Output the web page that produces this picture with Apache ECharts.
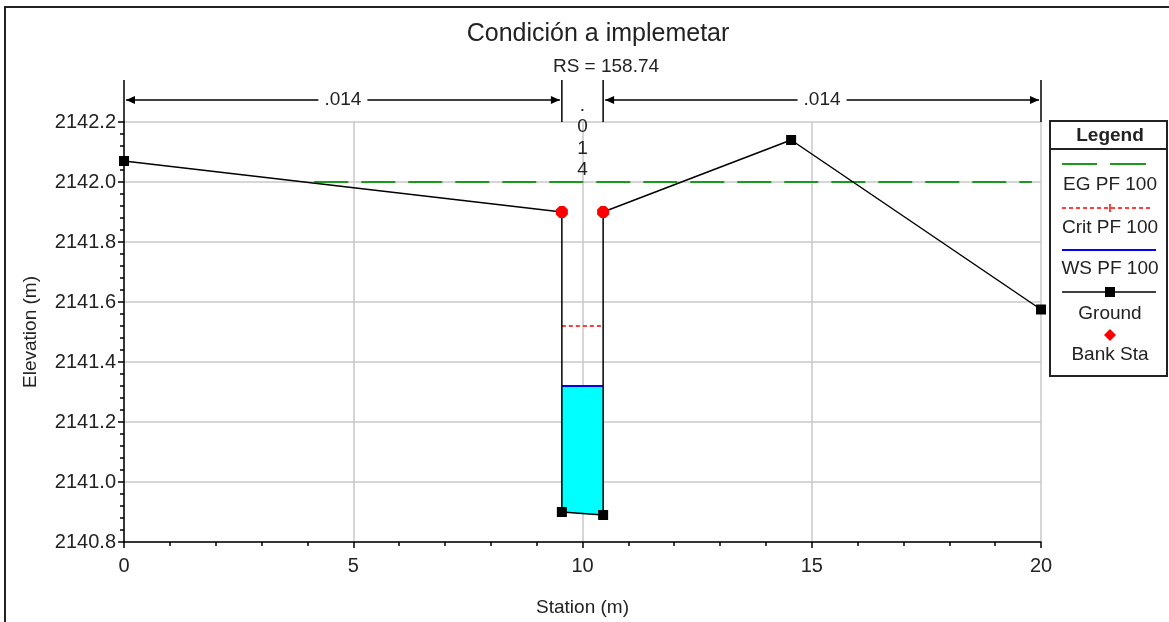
<!DOCTYPE html>
<html><head><meta charset="utf-8">
<script src="https://cdn.jsdelivr.net/npm/echarts@6/dist/echarts.min.js"></script>
<style>html,body{margin:0;padding:0;background:#fff}#c{width:1169px;height:622px}</style>
</head><body><div id="c"></div>
<script>
// ---- data ----
const groundX = [0, 9.55, 9.55, 10.45, 10.45, 14.55, 20];
const groundY = [2142.07, 2141.90, 2140.90, 2140.89, 2141.90, 2142.14, 2141.575];
const bankX = [9.55, 10.45];
const bankY = [2141.90, 2141.90];
const egX = [4.15, 19.8];
const egY = [2142.0, 2142.0];
const critX = [9.55, 10.45];
const critY = [2141.52, 2141.52];
const wsX = [9.55, 10.45];
const wsY = [2141.32, 2141.32];
const nBounds = [0, 9.55, 10.45, 20];
const nValues = ['.014', '.014', '.014'];
const legendNames = ['EG PF 100', 'Crit PF 100', 'WS PF 100', 'Ground', 'Bank Sta'];
const titleText = 'Condición a implemetar';
const subText = 'RS = 158.74';
const xMin = 0, xMax = 20, xStep = 5;
const yMin = 2140.8, yMax = 2142.2, yStep = 0.2;

const FONT = 'Liberation Sans, Arial, sans-serif';
const pairs = (xs, ys) => xs.map((x, i) => [x, ys[i]]);
const fillPoly = [[wsX[0], wsY[0]], [wsX[1], wsY[1]], [groundX[3], groundY[3]], [groundX[2], groundY[2]]];
const isBank = (x, y) => bankX.some((b, i) => b === x && bankY[i] === y);
const octagon = 'path://M3,0 L7,0 L10,3 L10,7 L7,10 L3,10 L0,7 L0,3 Z';

const chart = echarts.init(document.getElementById('c'), null, {renderer: 'canvas'});
const option = {
  backgroundColor: '#fff',
  animation: false,
  grid: {left: 124, right: 128, top: 122, bottom: 79},
  xAxis: {
    type: 'value', min: xMin, max: xMax, interval: xStep,
    name: 'Station (m)', nameLocation: 'middle', nameGap: 56,
    nameTextStyle: {fontFamily: FONT, fontSize: 19, color: '#222'},
    axisLine: {lineStyle: {color: '#000', width: 1.5}},
    axisTick: {show: true, length: 6, inside: false, lineStyle: {color: '#000', width: 1.5}},
    minorTick: {show: true, splitNumber: 5, length: 4, lineStyle: {color: '#000', width: 1.5}},
    axisLabel: {fontFamily: FONT, fontSize: 20, color: '#222', margin: 14},
    splitLine: {show: true, lineStyle: {color: '#c8c8c8', width: 1.5}}
  },
  yAxis: {
    type: 'value', min: yMin, max: yMax, interval: yStep,
    name: 'Elevation (m)', nameLocation: 'middle', nameGap: 84, nameRotate: 90,
    nameTextStyle: {fontFamily: FONT, fontSize: 19, color: '#222'},
    axisLine: {show: true, lineStyle: {color: '#000', width: 1.5}},
    axisTick: {show: true, length: 6, lineStyle: {color: '#000', width: 1.5}},
    minorTick: {show: true, splitNumber: 5, length: 4, lineStyle: {color: '#000', width: 1.5}},
    axisLabel: {fontFamily: FONT, fontSize: 20, color: '#222', margin: 8, formatter: v => v.toFixed(1)},
    splitLine: {show: true, lineStyle: {color: '#c8c8c8', width: 1.5}}
  },
  title: [
    {text: titleText, left: 593, top: 17, textAlign: 'center',
     textStyle: {fontFamily: FONT, fontSize: 25, fontWeight: 'normal', color: '#222'}},
    {text: subText, left: 601, top: 52, textAlign: 'center',
     textStyle: {fontFamily: FONT, fontSize: 19, fontWeight: 'normal', color: '#222'}}
  ],
  series: [
    {type: 'custom', name: 'fill', data: [[wsX[0], wsY[0]]], z: 1,
     renderItem: (params, api) => ({
       type: 'polygon',
       shape: {points: fillPoly.map(p => api.coord(p))},
       style: {fill: '#00ffff'}
     })},
    {type: 'line', name: legendNames[0], data: pairs(egX, egY), symbol: 'none', z: 2,
     lineStyle: {color: '#1a9a1a', width: 2, type: [34, 13]}},
    {type: 'line', name: legendNames[1], data: pairs(critX, critY), symbol: 'none', z: 3,
     lineStyle: {color: '#ff0000', width: 1.5, type: [4, 3]}},
    {type: 'line', name: legendNames[2], data: pairs(wsX, wsY), symbol: 'none', z: 3,
     lineStyle: {color: '#0000ff', width: 2}},
    {type: 'line', name: legendNames[3], z: 4,
     data: pairs(groundX, groundY).map(p => ({value: p, symbol: isBank(p[0], p[1]) ? 'none' : 'rect'})),
     symbol: 'rect', symbolSize: 10, showAllSymbol: true, itemStyle: {color: '#000'},
     lineStyle: {color: '#000', width: 1.5}},
    {type: 'scatter', name: legendNames[4], data: pairs(bankX, bankY), z: 5,
     symbol: octagon, symbolSize: 12, itemStyle: {color: '#ff0000', opacity: 1}}
  ]
};
chart.setOption(option);

// ---- annotations (positions derived from the axes) ----
const toPx = (x, y) => chart.convertToPixel({gridIndex: 0}, [x, y]);
const topY = toPx(0, yMax)[1];
const arrowY = topY - 22;
const g = [];
const bx = nBounds.map(b => toPx(b, yMax)[0]);
bx.forEach(x => g.push({type: 'line', shape: {x1: x, y1: topY - 42, x2: x, y2: topY}, style: {stroke: '#000', lineWidth: 1.5}, z: 10}));
function arrow(x, dir) { // dir -1 points left, +1 points right
  return {type: 'polygon', shape: {points: [[x, arrowY], [x - dir * 9, arrowY - 4], [x - dir * 9, arrowY + 4]]}, style: {fill: '#000'}, z: 10};
}
[[0, 1, 0], [2, 3, 2]].forEach(([a, b, k]) => {
  const x1 = bx[a] + 2, x2 = bx[b] - 2;
  g.push({type: 'line', shape: {x1, y1: arrowY, x2, y2: arrowY}, style: {stroke: '#000', lineWidth: 1.5}, z: 10});
  g.push(arrow(x1, -1), arrow(x2, 1));
  g.push({type: 'text', x: (x1 + x2) / 2, y: arrowY, z: 11,
    style: {text: nValues[k], fontFamily: FONT, fontSize: 19, fill: '#222', align: 'center', verticalAlign: 'middle',
            backgroundColor: '#fff', padding: [0, 6]}});
});
const midX = toPx((nBounds[1] + nBounds[2]) / 2, yMax)[0];
g.push({type: 'text', x: midX, y: topY - 27, z: 11,
  style: {text: nValues[1].split('').join('\n'), fontFamily: FONT, fontSize: 19, lineHeight: 21.5, fill: '#222', align: 'center', verticalAlign: 'top'}});

// outer frame (top + left edges visible)
g.push({type: 'line', shape: {x1: 4, y1: 7, x2: 1169, y2: 7}, style: {stroke: '#222', lineWidth: 2}, z: 20});
g.push({type: 'line', shape: {x1: 5, y1: 7, x2: 5, y2: 622}, style: {stroke: '#222', lineWidth: 2}, z: 20});

// ---- legend box ----
const L = {x: 1050, y: 121, w: 117, h: 255, cx: 1110};
g.push({type: 'rect', shape: {x: L.x, y: L.y, width: L.w, height: L.h}, style: {fill: '#fff', stroke: '#222', lineWidth: 2}, z: 20});
g.push({type: 'line', shape: {x1: L.x, y1: 149, x2: L.x + L.w, y2: 149}, style: {stroke: '#222', lineWidth: 2}, z: 21});
g.push({type: 'text', x: L.cx, y: 136, z: 21, style: {text: 'Legend', fontFamily: FONT, fontSize: 19, fontWeight: 'bold', fill: '#222', align: 'center', verticalAlign: 'middle'}});
const labY = [185, 228, 269, 314, 355];
labY.forEach((y, i) => g.push({type: 'text', x: L.cx, y, z: 21, style: {text: legendNames[i], fontFamily: FONT, fontSize: 19, fill: '#222', align: 'center', verticalAlign: 'middle'}}));
g.push({type: 'line', shape: {x1: 1062, y1: 164, x2: 1097, y2: 164}, style: {stroke: '#1a9a1a', lineWidth: 2}, z: 21});
g.push({type: 'line', shape: {x1: 1110, y1: 164, x2: 1146, y2: 164}, style: {stroke: '#1a9a1a', lineWidth: 2}, z: 21});
g.push({type: 'line', shape: {x1: 1062, y1: 208, x2: 1152, y2: 208}, style: {stroke: '#ff0000', lineWidth: 1.5, lineDash: [4, 3]}, z: 21});
g.push({type: 'line', shape: {x1: 1110, y1: 204, x2: 1110, y2: 212}, style: {stroke: '#ff0000', lineWidth: 1.5}, z: 21});
g.push({type: 'line', shape: {x1: 1062, y1: 250, x2: 1156, y2: 250}, style: {stroke: '#0000ff', lineWidth: 2}, z: 21});
g.push({type: 'line', shape: {x1: 1062, y1: 292, x2: 1156, y2: 292}, style: {stroke: '#000', lineWidth: 1.5}, z: 21});
g.push({type: 'rect', shape: {x: 1105, y: 287, width: 10, height: 10}, style: {fill: '#000'}, z: 22});
g.push({type: 'polygon', shape: {points: [[1110, 329], [1116, 335], [1110, 341], [1104, 335]]}, style: {fill: '#ff0000'}, z: 22});

chart.setOption({graphic: {elements: g}});
</script></body></html>
